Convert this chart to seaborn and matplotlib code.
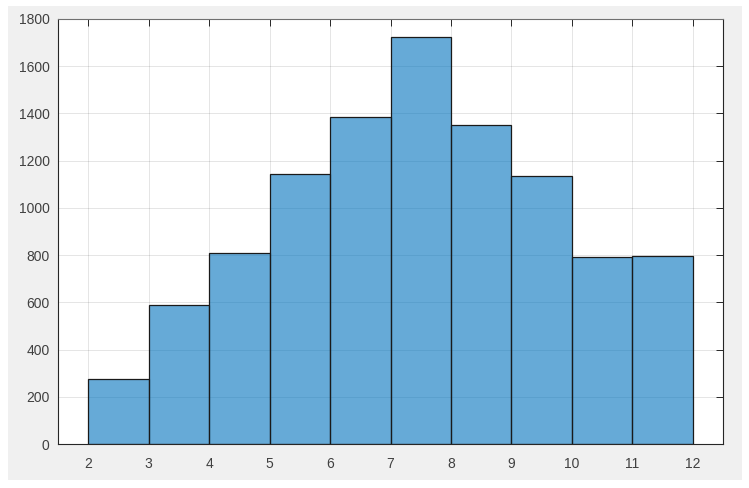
import numpy as np
import matplotlib
matplotlib.use("Agg")
import matplotlib.pyplot as plt
import seaborn as sns

# Dice-sum histogram: bin edges and counts per bin
bin_edges = [2, 3, 4, 5, 6, 7, 8, 9, 10, 11, 12]
counts = [277, 587, 810, 1142, 1385, 1722, 1351, 1136, 793, 797]
x_ticks = [2, 3, 4, 5, 6, 7, 8, 9, 10, 11, 12]
y_ticks = [0, 200, 400, 600, 800, 1000, 1200, 1400, 1600, 1800]

sns.set_style("white")
plt.rcParams['font.family'] = ['Liberation Sans', 'DejaVu Sans']

centers = [(a + b) / 2 for a, b in zip(bin_edges[:-1], bin_edges[1:])]

fig = plt.figure(figsize=(7.49, 4.88), dpi=100)
fig.patch.set_facecolor('white')
# MATLAB-like grey figure panel
fig.patches.append(plt.Rectangle((8 / 749, 8 / 488), 734 / 749, 474 / 488,
                                 transform=fig.transFigure, facecolor='#f0f0f0',
                                 edgecolor='none', zorder=-10))
ax = fig.add_axes([58 / 749, 44 / 488, 665 / 749, 425 / 488])
ax.set_facecolor('white')

sns.histplot(x=centers, weights=counts, bins=bin_edges, ax=ax,
             color='#0072BD', alpha=0.6, edgecolor='black', linewidth=0.9)
for p in ax.patches:
    p.set_edgecolor((0.1, 0.1, 0.1, 1))

ax.set_xlim(1.5, 12.5)
ax.set_ylim(0, 1800)
ax.set_xticks(x_ticks)
ax.set_yticks(y_ticks)
ax.set_xlabel('')
ax.set_ylabel('')
ax.grid(True, color='#262626', alpha=0.12, linewidth=0.7)
ax.set_axisbelow(True)
ax.tick_params(direction='in', length=5, width=0.7, colors='#262626',
               labelcolor='#404040', labelsize=10, top=True, right=True)
ax.tick_params(axis='x', pad=9)
ax.tick_params(axis='y', pad=6)
for s in ax.spines.values():
    s.set_visible(True)
    s.set_color('#262626')
    s.set_linewidth(0.8)
ax.spines['top'].set_color('#707070')

fig.savefig('out.png', dpi=100, facecolor=fig.get_facecolor())
